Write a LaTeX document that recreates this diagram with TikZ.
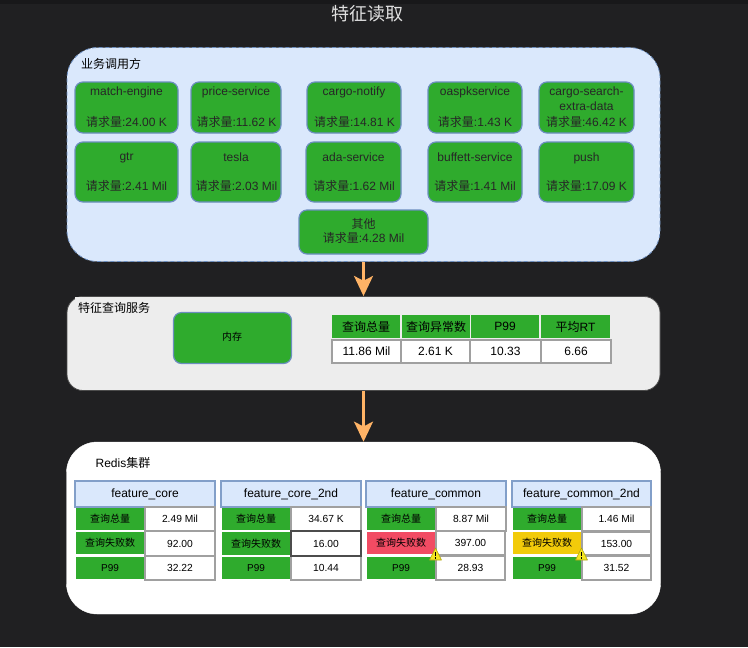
\documentclass[tikz,border=0pt]{standalone}
\usepackage{fontspec}
\setmainfont{Liberation Sans}
\newfontfamily\cjk{Noto Sans CJK SC}
\usetikzlibrary{arrows.meta,positioning}
\definecolor{bgdark}{HTML}{202022}
\definecolor{topdark}{HTML}{18181A}
\definecolor{bluefill}{HTML}{DAE8FC}
\definecolor{blueline}{HTML}{6C8EBF}
\definecolor{greenfill}{HTML}{2FAB2D}
\definecolor{grayfill}{HTML}{EDEDED}
\definecolor{cellline}{HTML}{A0A0A0}
\definecolor{arrowc}{HTML}{FFB366}
\definecolor{redfill}{HTML}{F24B63}
\definecolor{yellowfill}{HTML}{F2CB0A}
\definecolor{warnfill}{HTML}{F5E61E}
\tikzset{
 x=0.75pt,y=-0.75pt,
 svc/.style={draw=blueline,line width=0.9pt,fill=greenfill,rounded corners=6pt,inner sep=0pt,align=center},
 zone/.style={rounded corners=23pt,inner sep=0pt},
 head/.style={fill=greenfill,inner sep=0pt,align=center,font=\fontsize{9}{12}\selectfont,text=black},
 cell/.style={draw=cellline,line width=0.9pt,fill=white,inner sep=0pt,align=center,font=\fontsize{9}{12}\selectfont},
 lab/.style={fill=greenfill,inner sep=0pt,align=center,font=\fontsize{7.5}{10}\selectfont,text=black},
 val/.style={draw=cellline,line width=0.9pt,fill=white,inner sep=0pt,align=center,font=\fontsize{7.7}{10}\selectfont},
 fhead/.style={draw=blueline!85,line width=1pt,fill=bluefill,inner sep=0pt,align=center,font=\fontsize{9}{12}\selectfont},
 flow/.style={draw=arrowc,line width=2.7pt,-{Triangle[fill=arrowc,length=15pt,width=14pt,inset=3.5pt]}},
 plain/.style={inner sep=0pt,align=left,text=black},
 wsign/.style={fill=warnfill,draw=warnfill!70!black,line width=0.4pt,line join=round},
}
\newcommand{\cellbox}[7]{% style name x1 y1 x2 y2 text
 \node[#1,minimum width={(#5-#3)*0.75pt},minimum height={(#6-#4)*0.75pt}] (#2) at ({(#3+#5)/2},{(#4+#6)/2}) {#7};}
\newcommand{\svcbox}[7]{%
 \node[svc,minimum width={(#4-#2)*0.75pt},minimum height={(#5-#3)*0.75pt}] (#1) at ({(#2+#4)/2},{(#3+#5)/2}) {};
 \node[inner sep=0pt,align=center,font=\fontsize{9}{11}\selectfont,text=black!85] (#1a) at ({(#2+#4)/2},#6) {#7};}
\newcommand{\req}[4]{\node[inner sep=0pt,font=\fontsize{9}{12}\selectfont,text=black!85] (#1) at (#2,#3) {{\cjk 请求量}:#4};}
\newcommand{\lbl}[1]{{\cjk #1}}
\begin{document}
\begin{tikzpicture}
\useasboundingbox (0,0) rectangle (748,647);
\fill[bgdark] (0,0) rectangle (748,647);
\fill[topdark] (0,0) rectangle (748,4);
\node[inner sep=0pt,text=white!88!black,font=\cjk\fontsize{13.5}{16}\selectfont] (title) at (367.5,13.5) {特征读取};

% zone 1
\node[zone,draw=blueline,densely dashed,line width=0.6pt,fill=bluefill,minimum width=444.75pt,minimum height=160.5pt] (z1) at (363.5,154.5) {};
\node[plain,font=\cjk\fontsize{9}{12}\selectfont] (z1t) at (111,63.5) {业务调用方};

\svcbox{a1}{75}{82}{178}{133}{92}{match-engine}  \req{a1r}{126.5}{121.5}{24.00 K}
\svcbox{a2}{191}{82}{281}{133}{92}{price-service} \req{a2r}{236.5}{121.5}{11.62 K}
\svcbox{a3}{307}{82}{401}{133}{92}{cargo-notify}  \req{a3r}{354.5}{121.5}{14.81 K}
\svcbox{a4}{428}{82}{522}{133}{92}{oaspkservice}  \req{a4r}{475}{121.5}{1.43 K}
\svcbox{a5}{539}{82}{634}{133}{99}{cargo-search-\\extra-data} \req{a5r}{586.5}{121.5}{46.42 K}
\svcbox{b1}{75}{142}{178}{202}{158}{gtr}          \req{b1r}{126.5}{186}{2.41 Mil}
\svcbox{b2}{191}{142}{281}{202}{157}{tesla}       \req{b2r}{236.5}{186}{2.03 Mil}
\svcbox{b3}{306}{142}{401}{202}{157}{ada-service} \req{b3r}{354}{186}{1.62 Mil}
\svcbox{b4}{428}{142}{522}{202}{157}{buffett-service} \req{b4r}{475}{186}{1.41 Mil}
\svcbox{b5}{539}{142}{634}{202}{158}{push}        \req{b5r}{586.5}{186}{17.09 K}
\svcbox{c1}{299}{210}{428}{254}{224}{{\cjk 其他}} \req{c1r}{363.5}{238}{4.28 Mil}

% zone 2
\node[zone,rounded corners=12pt,draw=black!70,line width=0.6pt,fill=grayfill,minimum width=444.75pt,minimum height=70.5pt] (z2) at (363.5,343.5) {};
\node[fill=grayfill,inner sep=0pt,minimum width=58.5pt,minimum height=12pt] (z2tb) at (114,305) {};
\node[plain,font=\cjk\fontsize{9}{12}\selectfont] (z2t) at (114,308) {特征查询服务};
\node[svc,minimum width=88.5pt,minimum height=38.25pt] (mem) at (232.5,338) {};
\node[inner sep=0pt,font=\cjk\fontsize{7.5}{10}\selectfont,text=black] (memt) at (232,337) {内存};

\cellbox{head}{h1}{332}{315}{400}{338}{\cjk 查询总量}
\cellbox{head}{h2}{402}{315}{470}{338}{\cjk 查询异常数}
\cellbox{head}{h3}{471}{315}{539}{338}{P99}
\cellbox{head}{h4}{541}{315}{610}{338}{{\cjk 平均}RT}
\cellbox{cell}{v1}{332}{340}{401}{363}{11.86 Mil}
\cellbox{cell}{v2}{401}{340}{470}{363}{2.61 K}
\cellbox{cell}{v3}{470}{340}{541}{363}{10.33}
\cellbox{cell}{v4}{541}{340}{611}{363}{6.66}

% zone 3
\node[zone,draw=white,fill=white,line width=0.3pt,minimum width=445.5pt,minimum height=129pt] (z3) at (363.5,528) {};
\node[plain,font=\fontsize{9}{12}\selectfont] (z3t) at (123,463) {Redis{\cjk 集群}};

% feature_core
\cellbox{fhead}{f1}{75}{481}{215}{507}{feature\_core}
\cellbox{lab}{f1a}{76}{508}{144}{530}{\lbl{查询总量}}
\cellbox{lab}{f1b}{76}{532}{144}{554}{\lbl{查询失败数}}
\cellbox{lab}{f1c}{76}{557}{144}{579}{P99}
\cellbox{val}{f1x}{145}{507}{215}{531}{2.49 Mil}
\cellbox{val}{f1y}{145}{531}{215}{556}{\raisebox{-3pt}{92.00}}
\cellbox{val}{f1z}{145}{556}{215}{580}{32.22}
% feature_core_2nd
\cellbox{fhead}{f2}{221}{481}{361}{507}{feature\_core\_2nd}
\cellbox{lab}{f2a}{222}{508}{290}{530}{\lbl{查询总量}}
\cellbox{lab}{f2b}{222}{532}{290}{555}{\lbl{查询失败数}}
\cellbox{lab}{f2c}{222}{557}{290}{579}{P99}
\cellbox{val}{f2x}{291}{507}{361}{531}{34.67 K}
\cellbox{val}{f2z}{291}{556}{361}{580}{10.44}
\cellbox{val,draw=black!70}{f2y}{291}{531}{361}{556}{16.00}
% feature_common
\cellbox{fhead}{f3}{366}{481}{506}{507}{feature\_common}
\cellbox{lab}{f3a}{367}{508}{435}{530}{\lbl{查询总量}}
\cellbox{lab}{f3c}{367}{557}{435}{579}{P99}
\cellbox{val}{f3x}{436}{507}{506}{531}{8.87 Mil}
\cellbox{val}{f3y}{436}{531}{505}{555}{397.00}
\cellbox{val}{f3z}{436}{556}{505}{580}{\raisebox{-1.5pt}{28.93}}
\cellbox{lab,fill=redfill}{f3b}{367}{532}{435}{554}{\lbl{查询失败数}}
% feature_common_2nd
\cellbox{fhead}{f4}{512}{481}{651}{507}{feature\_common\_2nd}
\cellbox{lab}{f4a}{513}{508}{581}{530}{\lbl{查询总量}}
\cellbox{lab}{f4c}{513}{557}{581}{579}{P99}
\cellbox{val}{f4x}{582}{507}{651}{531}{1.46 Mil}
\cellbox{val}{f4y}{582}{532}{651}{555}{153.00}
\cellbox{val}{f4z}{582}{556}{651}{580}{31.52}
\cellbox{lab,fill=yellowfill}{f4b}{513}{532}{581}{554}{\lbl{查询失败数}}

\fill[wsign] (435.5,548) -- (441.5,560) -- (429.5,560) -- cycle;
\fill[black] (434.7,551.5) rectangle (436.3,556.2);\fill[black] (434.7,557.2) rectangle (436.3,558.8);
\fill[wsign] (581.5,548) -- (587.5,560) -- (575.5,560) -- cycle;
\fill[black] (580.7,551.5) rectangle (582.3,556.2);\fill[black] (580.7,557.2) rectangle (582.3,558.8);

% connectors
\draw[flow] (z1.south) -- (z2.north);
\draw[flow] (z2.south) -- (z3.north);
\end{tikzpicture}
\end{document}
